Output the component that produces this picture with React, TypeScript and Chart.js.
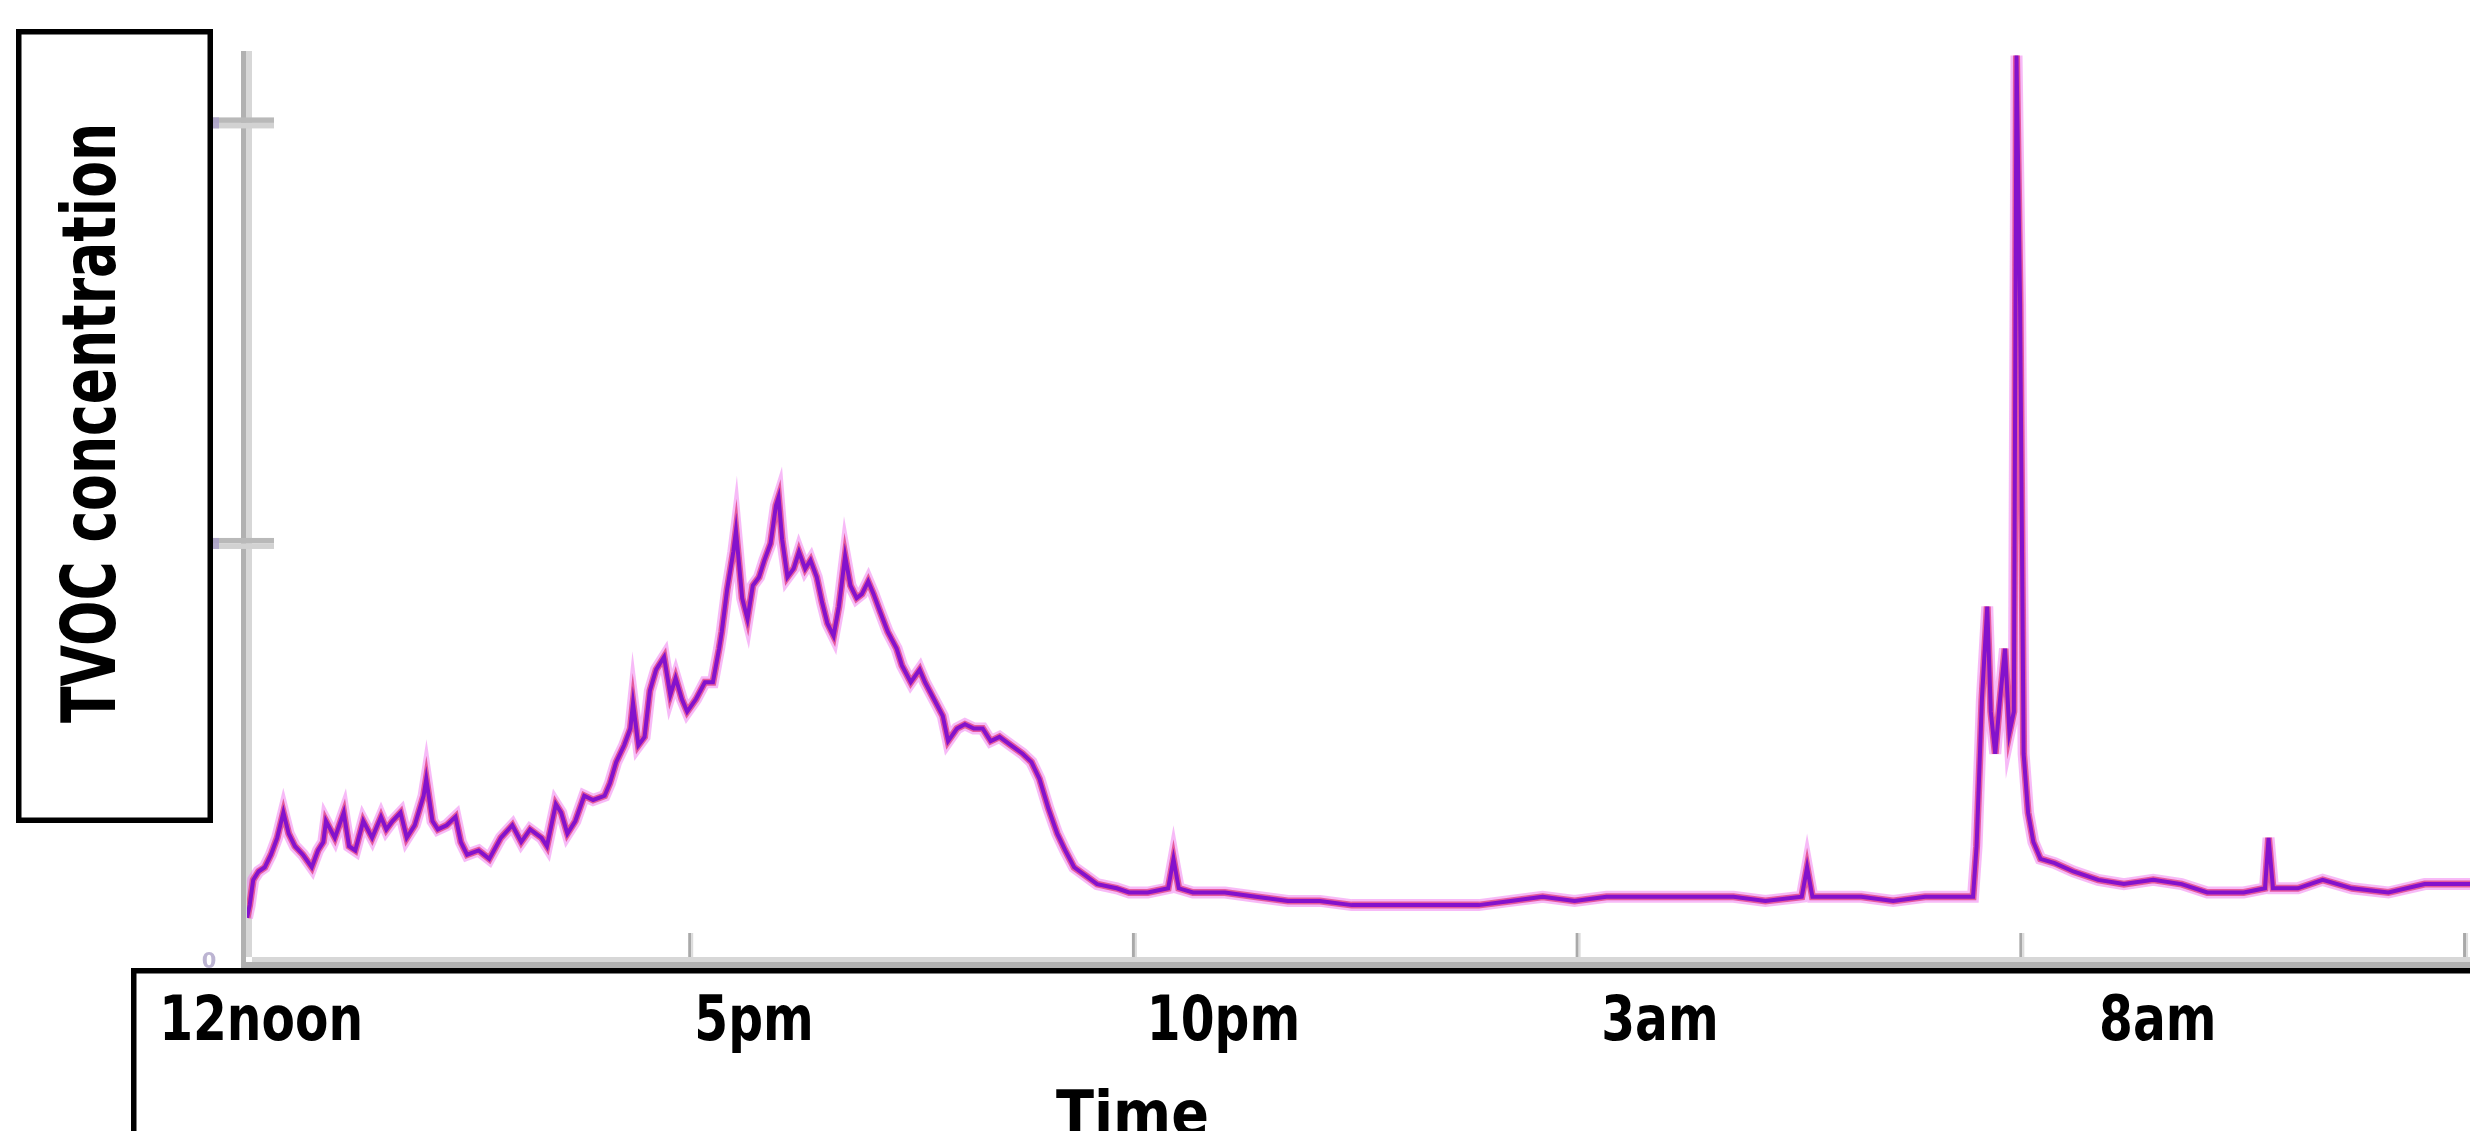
import React, { useEffect, useRef } from "react";
import { Chart, registerables } from "chart.js";

Chart.register(...registerables);

// ---- Data (hours after 12 noon, TVOC concentration) ----
const hours = [
  0.0, 0.03, 0.07, 0.13, 0.2, 0.27, 0.34, 0.41, 0.47, 0.54, 0.63, 0.73, 0.8, 0.86, 0.89, 0.99,
  1.09, 1.15, 1.22, 1.31, 1.41, 1.51, 1.57, 1.64, 1.73, 1.8, 1.89, 1.99, 2.02, 2.09, 2.15, 2.25,
  2.35, 2.41, 2.48, 2.61, 2.73, 2.86, 2.99, 3.09, 3.19, 3.32, 3.38, 3.48, 3.54, 3.61, 3.7, 3.8,
  3.9, 4.03, 4.09, 4.16, 4.25, 4.32, 4.35, 4.41, 4.48, 4.54, 4.61, 4.7, 4.77, 4.83, 4.9, 4.96,
  5.06, 5.16, 5.25, 5.32, 5.35, 5.41, 5.48, 5.51, 5.58, 5.64, 5.7, 5.77, 5.83, 5.9, 5.96, 5.99,
  6.03, 6.09, 6.16, 6.22, 6.29, 6.35, 6.42, 6.48, 6.54, 6.61, 6.67, 6.74, 6.8, 6.87, 6.93, 7.0,
  7.06, 7.13, 7.22, 7.32, 7.38, 7.48, 7.58, 7.64, 7.74, 7.84, 7.9, 8.0, 8.09, 8.19, 8.29, 8.38,
  8.48, 8.61, 8.74, 8.84, 8.93, 9.03, 9.13, 9.22, 9.32, 9.45, 9.58, 9.8, 9.94, 10.15, 10.38, 10.44,
  10.5, 10.66, 11.02, 11.37, 11.73, 12.09, 12.45, 12.81, 13.17, 13.53, 13.88, 14.24, 14.6, 14.96, 15.32, 15.68,
  16.04, 16.4, 16.75, 17.11, 17.52, 17.58, 17.64, 17.83, 18.19, 18.55, 18.91, 19.27, 19.45, 19.49, 19.55, 19.61,
  19.65, 19.7, 19.75, 19.81, 19.86, 19.91, 19.94, 19.98, 20.02, 20.07, 20.13, 20.21, 20.37, 20.58, 20.86, 21.15,
  21.48, 21.8, 22.09, 22.5, 22.74, 22.78, 22.83, 23.11, 23.39, 23.72, 24.13, 24.54, 25.05,
];

const tvoc = [
  0.11, 0.14, 0.2, 0.22, 0.23, 0.26, 0.3, 0.36, 0.31, 0.28, 0.26, 0.23, 0.27, 0.29, 0.34, 0.3,
  0.36, 0.28, 0.27, 0.34, 0.3, 0.35, 0.32, 0.34, 0.36, 0.3, 0.33, 0.4, 0.44, 0.34, 0.32, 0.33,
  0.35, 0.29, 0.26, 0.27, 0.25, 0.3, 0.33, 0.29, 0.32, 0.3, 0.28, 0.38, 0.36, 0.31, 0.34, 0.4,
  0.39, 0.4, 0.43, 0.48, 0.52, 0.56, 0.62, 0.52, 0.54, 0.65, 0.7, 0.73, 0.64, 0.68, 0.63, 0.6,
  0.63, 0.67, 0.67, 0.75, 0.79, 0.89, 0.98, 1.03, 0.87, 0.82, 0.9, 0.92, 0.96, 1.0, 1.09, 1.11,
  1.01, 0.92, 0.94, 0.98, 0.94, 0.96, 0.92, 0.86, 0.81, 0.78, 0.85, 0.97, 0.9, 0.87, 0.88, 0.91,
  0.88, 0.84, 0.79, 0.75, 0.71, 0.67, 0.7, 0.67, 0.63, 0.59, 0.53, 0.56, 0.57, 0.56, 0.56, 0.53,
  0.54, 0.52, 0.5, 0.48, 0.44, 0.37, 0.31, 0.27, 0.23, 0.21, 0.19, 0.18, 0.17, 0.17, 0.18, 0.25,
  0.18, 0.17, 0.17, 0.16, 0.15, 0.15, 0.14, 0.14, 0.14, 0.14, 0.14, 0.15, 0.16, 0.15, 0.16, 0.16,
  0.16, 0.16, 0.16, 0.15, 0.16, 0.23, 0.16, 0.16, 0.16, 0.15, 0.16, 0.16, 0.16, 0.28, 0.63, 0.85,
  0.6, 0.5, 0.62, 0.75, 0.55, 0.6, 2.16, 1.57, 0.5, 0.36, 0.29, 0.25, 0.24, 0.22, 0.2, 0.19,
  0.2, 0.19, 0.17, 0.17, 0.18, 0.3, 0.18, 0.18, 0.2, 0.18, 0.17, 0.19, 0.19,
];

const xTickHours = [5, 10, 15, 20, 25];
const yTickValues = [1, 2];
const xTickLabels = ["12noon", "5pm", "10pm", "3am", "8am"];
const xTickLabelStartHours = [-0.99, 5.04, 10.14, 15.26, 20.87];
const yTitle = "TVOC concentration";
const xTitle = "Time";
const yZeroLabel = "0";

const W = 2470;
const H = 1131;

const decorPlugin = {
  id: "decor",
  beforeDatasetsDraw(chart: any) {
    const ctx = chart.ctx as CanvasRenderingContext2D;
    const xs = chart.scales.x;
    const ys = chart.scales.y;
    const area = chart.chartArea;
    const y0 = ys.getPixelForValue(0);
    ctx.save();
    // y-axis groove
    ctx.fillStyle = "#b1b1b1";
    ctx.fillRect(241, area.top, 5, y0 + 4 - area.top);
    ctx.fillStyle = "#d7d7d7";
    ctx.fillRect(246, area.top, 6, y0 - 7 - area.top);
    // x-axis groove
    ctx.fillStyle = "#d7d7d7";
    ctx.fillRect(252, y0 - 7, W - 252, 5);
    ctx.fillStyle = "#b1b1b1";
    ctx.fillRect(241, y0 - 2, W - 241, 6);
    // y ticks
    yTickValues.forEach((v) => {
      const py = ys.getPixelForValue(v);
      ctx.fillStyle = "#b9b9b9";
      ctx.fillRect(213, py - 5.5, 61, 5.5);
      ctx.fillStyle = "#d2d2d2";
      ctx.fillRect(213, py, 61, 5.5);
      ctx.fillStyle = "rgba(170,160,200,0.8)";
      ctx.fillRect(213, py - 5.5, 6, 11);
    });
    // x ticks (pointing inward)
    xTickHours.forEach((h) => {
      const px = xs.getPixelForValue(h);
      ctx.fillStyle = "#a9a9a9";
      ctx.fillRect(px - 2.5, y0 - 31, 3, 24);
      ctx.fillStyle = "#dcdcdc";
      ctx.fillRect(px + 0.5, y0 - 31, 2, 24);
    });
    // faint zero label
    ctx.fillStyle = "rgba(165,155,195,0.75)";
    ctx.font = 'bold 21px "DejaVu Sans"';
    ctx.textAlign = "center";
    ctx.textBaseline = "alphabetic";
    ctx.fillText(yZeroLabel, 209, y0 + 4);
    ctx.restore();
  },
  afterDraw(chart: any) {
    const ctx = chart.ctx as CanvasRenderingContext2D;
    const xs = chart.scales.x;
    ctx.save();
    // y title box
    ctx.strokeStyle = "#000";
    ctx.lineWidth = 5.5;
    ctx.strokeRect(16 + 2.75, 29 + 2.75, 197 - 5.5, 794 - 5.5);
    // x label box (extends past the right and bottom edges)
    ctx.strokeRect(131 + 2.75, 968 + 2.75, W + 20, H);

    // y title, rotated, condensed to fit
    ctx.fillStyle = "#000";
    ctx.font = 'bold 75px "DejaVu Sans"';
    ctx.textAlign = "left";
    ctx.textBaseline = "alphabetic";
    const yw = ctx.measureText(yTitle).width;
    ctx.save();
    ctx.translate(115, 723);
    ctx.rotate(-Math.PI / 2);
    ctx.scale(600 / yw, 1);
    ctx.fillText(yTitle, 0, 0);
    ctx.restore();

    // x tick labels
    ctx.font = 'bold 62px "DejaVu Sans"';
    xTickLabels.forEach((t, i) => {
      const px = xs.getPixelForValue(xTickLabelStartHours[i]);
      ctx.save();
      ctx.translate(px, 1040);
      ctx.scale(0.785, 1);
      ctx.fillText(t, 0, 0);
      ctx.restore();
    });

    // x title
    const tw = ctx.measureText(xTitle).width;
    ctx.save();
    ctx.translate(1056, 1135);
    ctx.scale(153 / tw, 1);
    ctx.fillText(xTitle, 0, 0);
    ctx.restore();
    ctx.restore();
  },
};

export default function App() {
  const canvasRef = useRef<HTMLCanvasElement | null>(null);

  useEffect(() => {
    document.body.style.margin = "0";
    const canvas = canvasRef.current;
    if (!canvas) return;
    const mk = () => hours.map((h, i) => ({ x: h, y: tvoc[i] }));
    const chart = new Chart(canvas, {
      type: "line",
      data: {
        datasets: [
          {
            label: "TVOC",
            data: mk(),
            borderColor: "#8412cc",
            borderWidth: 4,
            pointRadius: 0,
            tension: 0,
            order: 1,
          },
          {
            label: "red",
            data: mk(),
            borderColor: "rgba(222,50,120,0.7)",
            borderWidth: 7,
            pointRadius: 0,
            tension: 0,
            order: 2,
          },
          {
            label: "halo",
            data: mk(),
            borderColor: "rgba(240,130,240,0.55)",
            borderWidth: 12,
            pointRadius: 0,
            tension: 0,
            order: 3,
          },
        ],
      },
      options: {
        responsive: false,
        animation: false,
        devicePixelRatio: 1,
        layout: { padding: { left: 247, right: 0, top: 51, bottom: 167 } },
        plugins: { legend: { display: false }, tooltip: { enabled: false } },
        scales: {
          x: { type: "linear", min: 0, max: 25.05, display: false },
          y: { type: "linear", min: 0, max: 2.171, display: false },
        },
      },
      plugins: [decorPlugin],
    });
    return () => chart.destroy();
  }, []);

  return (
    <div style={{ position: "fixed", left: 0, top: 0, width: W, height: H, background: "#fff" }}>
      <canvas ref={canvasRef} width={W} height={H} style={{ display: "block", width: W, height: H }} />
    </div>
  );
}
